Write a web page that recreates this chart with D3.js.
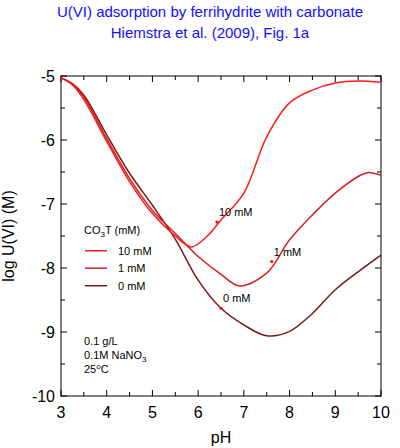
<!DOCTYPE html>
<html><head><meta charset="utf-8">
<script src="https://cdn.jsdelivr.net/npm/d3@7"></script>
<style>body{margin:0;background:#fff}text{font-family:"Liberation Sans",Arial,sans-serif}</style>
</head><body><svg id="chart" width="400" height="448"></svg>
<script>
const pH0 = [3, 3.25, 3.5, 4, 4.5, 5, 5.5, 6, 6.5, 7, 7.5, 8, 8.5, 9, 9.5, 10];
const co0 = [-5.03, -5.12, -5.3, -5.92, -6.52, -7.02, -7.55, -8.19, -8.63, -8.89, -9.06, -8.99, -8.71, -8.34, -8.06, -7.8];
const pH1 = [3, 3.25, 3.5, 4, 4.5, 5, 5.5, 6, 6.5, 6.9, 7.5, 8, 8.5, 9, 9.5, 9.7, 10];
const co1 = [-5.03, -5.13, -5.33, -5.98, -6.6, -7.1, -7.46, -7.82, -8.1, -8.28, -8.08, -7.56, -7.17, -6.83, -6.57, -6.51, -6.55];
const pH10 = [3, 3.25, 3.5, 4, 4.5, 5, 5.5, 5.85, 6.2, 6.5, 7, 7.5, 8, 8.5, 9, 9.5, 10];
const co10 = [-5.03, -5.14, -5.37, -6.02, -6.65, -7.15, -7.5, -7.67, -7.5, -7.25, -6.83, -5.95, -5.42, -5.22, -5.11, -5.08, -5.1];
const seriesNames = ["10 mM", "1 mM", "0 mM"];
const seriesColors = ["#ff1a1a", "#d42020", "#7a1818"];
const labelPts = [[6.41, -7.28], [7.61, -7.9], [6.5, -8.63]];

const series = [
  { name: seriesNames[0], color: seriesColors[0], x: pH10, y: co10, lab: labelPts[0] },
  { name: seriesNames[1], color: seriesColors[1], x: pH1, y: co1, lab: labelPts[1] },
  { name: seriesNames[2], color: seriesColors[2], x: pH0, y: co0, lab: labelPts[2] }
];

const svg = d3.select("#chart");
const m = { left: 61, right: 19, top: 76, bottom: 52 };
const W = 400 - m.left - m.right, H = 448 - m.top - m.bottom;
const x = d3.scaleLinear().domain([3, 10]).range([0, W]);
const y = d3.scaleLinear().domain([-10, -5]).range([H, 0]);

svg.append("text").attr("x", 210).attr("y", 17).attr("text-anchor", "middle")
  .attr("fill", "#1010ff").style("font-size", "15px").text("U(VI) adsorption by ferrihydrite with carbonate");
svg.append("text").attr("x", 210).attr("y", 38).attr("text-anchor", "middle")
  .attr("fill", "#1010ff").style("font-size", "15px").text("Hiemstra et al. (2009), Fig. 1a");

const g = svg.append("g").attr("transform", `translate(${m.left},${m.top})`);

// frame and ticks
g.append("rect").attr("width", W).attr("height", H).attr("fill", "none").attr("stroke", "#000");
const xt = d3.range(3, 10.01, 0.5), yt = d3.range(-10, -4.99, 0.5);
xt.forEach(v => {
  const L = Number.isInteger(v) ? 6 : 4;
  g.append("line").attr("x1", x(v)).attr("x2", x(v)).attr("y1", H).attr("y2", H - L).attr("stroke", "#000");
  g.append("line").attr("x1", x(v)).attr("x2", x(v)).attr("y1", 0).attr("y2", L).attr("stroke", "#000");
});
yt.forEach(v => {
  const L = Number.isInteger(v) ? 6 : 4;
  g.append("line").attr("y1", y(v)).attr("y2", y(v)).attr("x1", 0).attr("x2", L).attr("stroke", "#000");
  g.append("line").attr("y1", y(v)).attr("y2", y(v)).attr("x1", W).attr("x2", W - L).attr("stroke", "#000");
});
d3.range(3, 11).forEach(v => g.append("text").attr("x", x(v)).attr("y", H + 22)
  .attr("text-anchor", "middle").style("font-size", "16px").text(v));
d3.range(-10, -4).forEach(v => g.append("text").attr("x", -6).attr("y", y(v) + 6)
  .attr("text-anchor", "end").style("font-size", "16px").text(v));
svg.append("text").attr("x", m.left + W / 2).attr("y", 443).attr("text-anchor", "middle")
  .style("font-size", "16px").text("pH");
svg.append("text").attr("transform", `translate(14,${m.top + H / 2}) rotate(-90)`)
  .attr("text-anchor", "middle").style("font-size", "16px").text("log U(VI) (M)");

const line = d3.line().x(d => x(d[0])).y(d => y(d[1])).curve(d3.curveCatmullRom.alpha(0.5));
[...series].reverse().forEach(s => {
  g.append("path").attr("d", line(s.x.map((v, i) => [v, s.y[i]])))
    .attr("fill", "none").attr("stroke", s.color).attr("stroke-width", 1.5);
  g.append("circle").attr("cx", x(s.lab[0])).attr("cy", y(s.lab[1])).attr("r", 1.5).attr("fill", "#ff0000");
  g.append("text").attr("x", x(s.lab[0]) + 2).attr("y", y(s.lab[1]) - 6)
    .style("font-size", "11px").text(s.name);
});

// legend
const lg = g.append("g");
const lt = lg.append("text").attr("x", 23).attr("y", y(-7.47)).style("font-size", "11px");
lt.append("tspan").text("CO");
lt.append("tspan").attr("dy", 3).style("font-size", "8px").text("3");
lt.append("tspan").attr("dy", -3).text("T (mM)");
series.forEach((s, i) => {
  const yy = y(-7.73) + i * 17.5;
  lg.append("line").attr("x1", 24).attr("x2", 46).attr("y1", yy).attr("y2", yy)
    .attr("stroke", s.color).attr("stroke-width", 1.5);
  lg.append("text").attr("x", 57).attr("y", yy + 4).style("font-size", "11px").text(s.name);
});
const notes = g.append("g").style("font-size", "11px");
notes.append("text").attr("x", 23).attr("y", y(-9.2)).text("0.1 g/L");
const n2 = notes.append("text").attr("x", 23).attr("y", y(-9.42));
n2.append("tspan").text("0.1M NaNO");
n2.append("tspan").attr("dy", 3).style("font-size", "8px").text("3");
const n3 = notes.append("text").attr("x", 23).attr("y", y(-9.64));
n3.append("tspan").text("25");
n3.append("tspan").attr("dy", -4).style("font-size", "8px").text("o");
n3.append("tspan").attr("dy", 4).text("C");
</script></body></html>
